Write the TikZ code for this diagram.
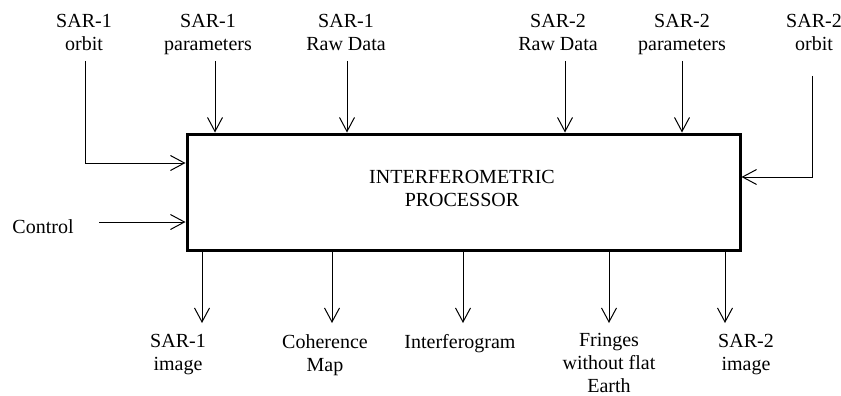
\documentclass[tikz,border=0pt]{standalone}
\usepackage{fontspec}
\setmainfont{Liberation Serif}
\newfontfamily\timesfont{Liberation Serif}
\usetikzlibrary{arrows.meta}
\begin{document}
\begin{tikzpicture}[x=1pt,y=-1pt,
  lbl/.style={align=center,font=\timesfont\fontsize{20}{23}\selectfont,inner sep=0pt},
  arr/.style={line width=1pt,-{Straight Barb[length=14pt,width=15pt,line width=1pt]}},
  procbox/.style={draw,line width=3pt,minimum width=553pt,minimum height=116pt,inner sep=0pt}]
\useasboundingbox (0,0) rectangle (841,396);
% main box
\node[procbox] (proc) at (463.5,192) {};
\node[lbl,anchor=north] (ptext) at (462,170) {INTERFEROMETRIC\\PROCESSOR};
% top labels
\node[lbl,anchor=north] (lo1) at (84,14) {SAR-1\\orbit};
\node[lbl,anchor=north] (lp1) at (208,14) {SAR-1\\parameters};
\node[lbl,anchor=north] (lr1) at (346,14) {SAR-1\\Raw Data};
\node[lbl,anchor=north] (lr2) at (558,14) {SAR-2\\Raw Data};
\node[lbl,anchor=north] (lp2) at (682,14) {SAR-2\\parameters};
\node[lbl,anchor=north] (lo2) at (814,14) {SAR-2\\orbit};
\node[lbl,anchor=base] (lc) at (43,233) {Control};
% bottom labels
\node[lbl,anchor=north] (bi1) at (178,334) {SAR-1\\image};
\node[lbl,anchor=north] (bcm) at (325,334) {Coherence\\Map};
\node[lbl,anchor=north] (bif) at (460,334) {Interferogram};
\node[lbl,anchor=north] (bfr) at (609,333) {Fringes\\without flat\\Earth};
\node[lbl,anchor=north] (bi2) at (746,334) {SAR-2\\image};
% input coordinates
\coordinate (o1s) at (85,61);
\coordinate (p1s) at (215,61);
\coordinate (r1s) at (347,61);
\coordinate (r2s) at (565,61);
\coordinate (p2s) at (682,61);
\coordinate (o2s) at (812,76);
\coordinate (cs) at (99,222);
% output coordinates
\coordinate (b1e) at (202,323);
\coordinate (b2e) at (332,323);
\coordinate (b3e) at (463,323);
\coordinate (b4e) at (609,323);
\coordinate (b5e) at (725,323);
% inputs
\draw[arr] (o1s) |- (proc.west |- 0,163);
\draw[arr] (p1s) -- (p1s |- proc.north);
\draw[arr] (r1s) -- (r1s |- proc.north);
\draw[arr] (r2s) -- (r2s |- proc.north);
\draw[arr] (p2s) -- (p2s |- proc.north);
\draw[arr] (o2s) |- (proc.east |- 0,177);
\draw[arr] (cs) -- (proc.west |- cs);
% outputs
\draw[arr] (b1e |- proc.south) -- (b1e);
\draw[arr] (b2e |- proc.south) -- (b2e);
\draw[arr] (b3e |- proc.south) -- (b3e);
\draw[arr] (b4e |- proc.south) -- (b4e);
\draw[arr] (b5e |- proc.south) -- (b5e);
\end{tikzpicture}
\end{document}
